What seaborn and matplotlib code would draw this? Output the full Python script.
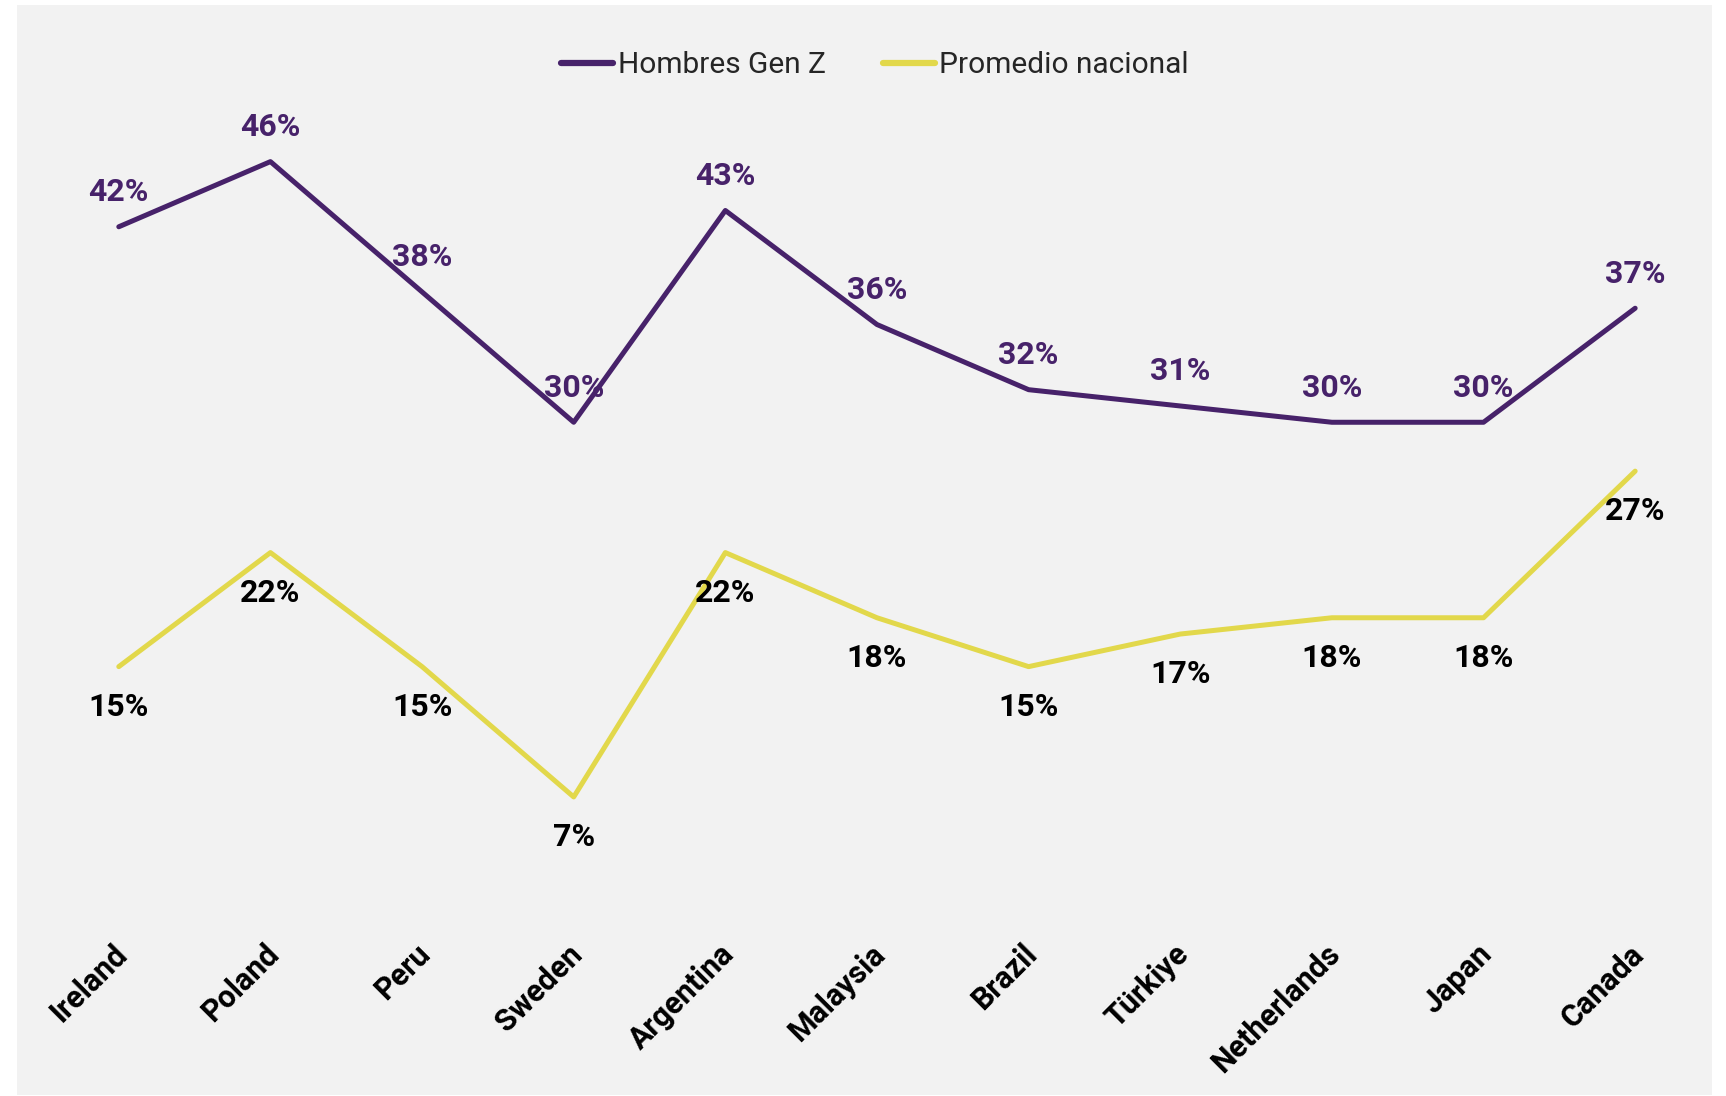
import pandas as pd
import seaborn as sns
import matplotlib.pyplot as plt
import matplotlib.transforms as mtransforms
from matplotlib.patches import Rectangle

countries = ['Ireland', 'Poland', 'Peru', 'Sweden', 'Argentina', 'Malaysia',
             'Brazil', 'Türkiye', 'Netherlands', 'Japan', 'Canada']
gen_z_men = [42, 46, 38, 30, 43, 36, 32, 31, 30, 30, 37]
national_avg = [15, 22, 15, 7, 22, 18, 15, 17, 18, 18, 27]
series_names = ['Hombres Gen Z', 'Promedio nacional']

purple = '#47226a'
yellow = '#e2d84b'

sns.set_theme(style='white')
plt.rcParams['font.family'] = ['Roboto', 'DejaVu Sans']

df = pd.DataFrame({
    'country': countries * 2,
    'pos': list(range(len(countries))) * 2,
    'value': gen_z_men + national_avg,
    'series': [series_names[0]] * len(countries) + [series_names[1]] * len(countries),
})

fig = plt.figure(figsize=(17.26, 10.96), dpi=100)
fig.patch.set_facecolor('white')
# grey panel behind the chart
fig.patches.append(Rectangle((17 / 1726, 1 / 1096), 1695 / 1726, 1090 / 1096,
                             transform=fig.transFigure, facecolor='#f2f2f2',
                             edgecolor='none', zorder=-5))
ax = fig.add_axes([0.0249, 0.1688, 0.9664, 0.7432])
ax.set_facecolor('none')
ax.set_zorder(2)

sns.lineplot(data=df, x='pos', y='value', hue='series',
             palette=[purple, yellow], linewidth=3.6, ax=ax, legend=False)

# data labels
for i, v in enumerate(gen_z_men):
    ax.annotate('{}%'.format(v), (i, v), xytext=(0, 25), textcoords='offset points',
                ha='center', va='center', fontsize=23, fontweight='bold', color=purple)
for i, v in enumerate(national_avg):
    ax.annotate('{}%'.format(v), (i, v), xytext=(0, -29), textcoords='offset points',
                ha='center', va='center', fontsize=23, fontweight='bold', color='black')

ax.set_xlim(-0.5, len(countries) - 0.5)
ax.set_ylim(0, 50)
ax.set_xticks(range(len(countries)))
ax.set_xticklabels(countries, rotation=45, ha='right', rotation_mode='anchor',
                   fontsize=22, fontweight='bold', color='black')
ax.tick_params(axis='x', length=0, pad=20)
# nudge tick labels a little to the left
shift = mtransforms.ScaledTranslation(-7 / 100, 0, fig.dpi_scale_trans)
for lbl in ax.get_xticklabels():
    lbl.set_transform(lbl.get_transform() + shift)
ax.set_yticks([])
ax.set_xlabel('')
ax.set_ylabel('')
for s in ax.spines.values():
    s.set_visible(False)

handles = [plt.Line2D([], [], color=purple, linewidth=4.5, solid_capstyle='round'),
           plt.Line2D([], [], color=yellow, linewidth=4.5, solid_capstyle='round')]
fig.legend(handles, series_names, loc='center', bbox_to_anchor=(0.507, 0.9405),
           ncol=2, frameon=False, fontsize=21.5, handlelength=1.75, handletextpad=0.15,
           columnspacing=1.9)

plt.savefig('out.png', dpi=100)
